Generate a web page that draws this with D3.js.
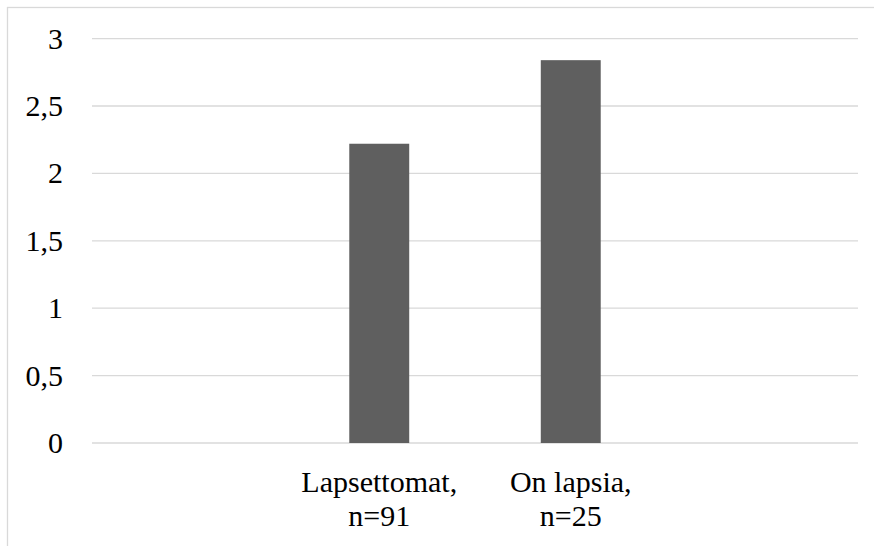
<!DOCTYPE html>
<html>
<head>
<meta charset="utf-8">
<script src="https://cdn.jsdelivr.net/npm/d3@7"></script>
</head>
<body style="margin:0">
<svg id="c" width="874" height="546" style="display:block"></svg>
<script>
// Data
const categoryLines = [[""], ["Lapsettomat,", "n=91"], ["On lapsia,", "n=25"], [""]];
const values = [null, 2.22, 2.84, null];
const yTicks = [0, 0.5, 1, 1.5, 2, 2.5, 3];
const yTickLabels = ["0", "0,5", "1", "1,5", "2", "2,5", "3"];

const W = 874, H = 546;
const margin = { left: 92, right: 16, top: 38.6, bottom: 103 };
const svg = d3.select("#c");
const serif = d => `"Times New Roman"`;

// outer chart border (extends beyond the photo at right/bottom)
svg.append("rect")
  .attr("x", 7.5).attr("y", 7.5)
  .attr("width", W + 20).attr("height", H + 20)
  .attr("fill", "none").attr("stroke", "#d9d9d9").attr("stroke-width", 1.3);

const x = d3.scaleBand()
  .domain(d3.range(categoryLines.length))
  .range([margin.left, W - margin.right])
  .padding(0);

const y = d3.scaleLinear()
  .domain([0, 3])
  .range([H - margin.bottom, margin.top]);

// gridlines
svg.append("g").selectAll("line")
  .data(yTicks)
  .join("line")
  .attr("x1", margin.left).attr("x2", W - margin.right)
  .attr("y1", d => y(d)).attr("y2", d => y(d))
  .attr("stroke", "#d9d9d9").attr("stroke-width", 1.3);

// y labels
svg.append("g").selectAll("text")
  .data(yTicks)
  .join("text")
  .attr("x", 63)
  .attr("y", d => y(d) + 10)
  .attr("text-anchor", "end")
  .style("font-family", serif)
  .style("font-size", "30px")
  .text((d, i) => yTickLabels[i]);

// bars
const barW = x.step() * 0.313;
svg.append("g").selectAll("rect")
  .data(values.map((v, i) => ({ v, i })).filter(d => d.v != null))
  .join("rect")
  .attr("x", d => x(d.i) + x.bandwidth() / 2 - barW / 2)
  .attr("width", barW)
  .attr("y", d => y(d.v))
  .attr("height", d => y(0) - y(d.v))
  .attr("fill", "#5f5f5f");

// category labels (one text per line)
categoryLines.forEach((lines, i) => {
  lines.forEach((l, j) => {
    svg.append("text")
      .attr("x", x(i) + x.bandwidth() / 2)
      .attr("y", 492 + j * 34)
      .attr("text-anchor", "middle")
      .style("font-family", serif)
      .style("font-size", "30px")
      .text(l);
  });
});
</script>
</body>
</html>
